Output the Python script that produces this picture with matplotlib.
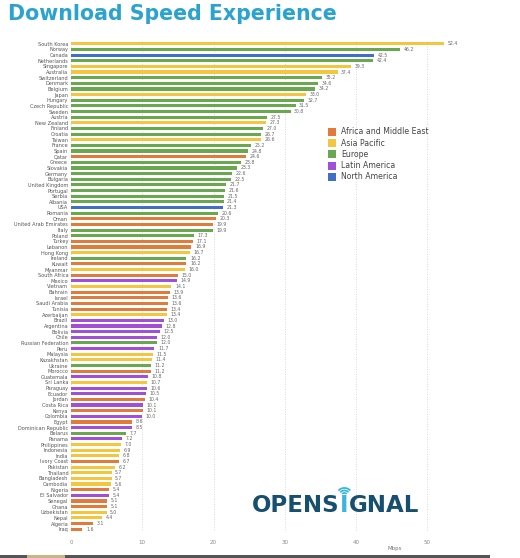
import matplotlib.pyplot as plt
from matplotlib.patches import Arc, Rectangle

# regions
regions = ['Africa and Middle East', 'Asia Pacific', 'Europe', 'Latin America', 'North America']
region_colors = ['#e07b3c', '#f4c53f', '#6aa84f', '#a24fd8', '#3f6fc6']

countries = [
    'South Korea', 'Norway', 'Canada', 'Netherlands', 'Singapore', 'Australia',
    'Switzerland', 'Denmark', 'Belgium', 'Japan', 'Hungary', 'Czech Republic',
    'Sweden', 'Austria', 'New Zealand', 'Finland', 'Croatia', 'Taiwan', 'France',
    'Spain', 'Qatar', 'Greece', 'Slovakia', 'Germany', 'Bulgaria', 'United Kingdom',
    'Portugal', 'Serbia', 'Albania', 'USA', 'Romania', 'Oman', 'United Arab Emirates',
    'Italy', 'Poland', 'Turkey', 'Lebanon', 'Hong Kong', 'Ireland', 'Kuwait',
    'Myanmar', 'South Africa', 'Mexico', 'Vietnam', 'Bahrain', 'Israel',
    'Saudi Arabia', 'Tunisia', 'Azerbaijan', 'Brazil', 'Argentina', 'Bolivia',
    'Chile', 'Russian Federation', 'Peru', 'Malaysia', 'Kazakhstan', 'Ukraine',
    'Morocco', 'Guatemala', 'Sri Lanka', 'Paraguay', 'Ecuador', 'Jordan',
    'Costa Rica', 'Kenya', 'Colombia', 'Egypt', 'Dominican Republic', 'Belarus',
    'Panama', 'Philippines', 'Indonesia', 'India', 'Ivory Coast', 'Pakistan',
    'Thailand', 'Bangladesh', 'Cambodia', 'Nigeria', 'El Salvador', 'Senegal',
    'Ghana', 'Uzbekistan', 'Nepal', 'Algeria', 'Iraq']

speeds = [
    52.4, 46.2, 42.5, 42.4, 39.3, 37.4,
    35.2, 34.6, 34.2, 33.0, 32.7, 31.5,
    30.8, 27.5, 27.3, 27.0, 26.7, 26.6, 25.2,
    24.8, 24.6, 23.8, 23.3, 22.6, 22.5, 21.7,
    21.6, 21.5, 21.4, 21.3, 20.6, 20.3, 19.9,
    19.9, 17.3, 17.1, 16.9, 16.7, 16.2, 16.2,
    16.0, 15.0, 14.9, 14.1, 13.9, 13.6,
    13.6, 13.4, 13.4, 13.0, 12.8, 12.5,
    12.0, 12.0, 11.7, 11.5, 11.4, 11.2,
    11.2, 10.8, 10.7, 10.6, 10.5, 10.4,
    10.1, 10.1, 10.0, 8.6, 8.5, 7.7,
    7.2, 7.0, 6.9, 6.8, 6.7, 6.2,
    5.7, 5.7, 5.6, 5.4, 5.4, 5.1,
    5.1, 5.0, 4.4, 3.1, 1.6]

# region index per country (0 AME, 1 AP, 2 EU, 3 LA, 4 NA)
region_idx = [
    1, 2, 4, 2, 1, 1,
    2, 2, 2, 1, 2, 2,
    2, 2, 1, 2, 2, 1, 2,
    2, 0, 2, 2, 2, 2, 2,
    2, 2, 2, 4, 2, 0, 0,
    2, 2, 0, 0, 1, 2, 0,
    1, 0, 3, 1, 0, 0,
    0, 0, 1, 3, 3, 3,
    3, 2, 3, 1, 1, 2,
    0, 3, 1, 3, 3, 0,
    3, 0, 3, 0, 3, 2,
    3, 1, 1, 1, 0, 1,
    1, 1, 1, 0, 3, 0,
    0, 1, 1, 0, 0]

fig = plt.figure(figsize=(5.2, 5.58), dpi=100)
ax = fig.add_axes([71/520, 1 - 532/558, 1 - 71/520, (532 - 41)/558])

ypos = list(range(len(countries)))
colors = [region_colors[i] for i in region_idx]
ax.barh(ypos, speeds, height=0.55, color=colors)
ax.set_ylim(len(countries) - 0.5, -0.5)
ax.set_xlim(0, 63)

for y, v in zip(ypos, speeds):
    ax.text(v + 0.5, y, '%.1f' % v, va='center', ha='left', fontsize=3.3, color='#666666')

ax.set_yticks(ypos)
ax.set_yticklabels(countries, fontsize=3.6, color='#555555')
ax.set_xticks([0, 10, 20, 30, 40, 50])
ax.tick_params(axis='x', labelsize=4, colors='#888888', length=0, pad=6)
ax.tick_params(axis='y', length=0, pad=2)
ax.grid(axis='x', linestyle=(0, (1, 2)), color='#cccccc', linewidth=0.6)
ax.set_axisbelow(True)
for s in ax.spines.values():
    s.set_visible(False)
ax.set_xlabel('Mbps', fontsize=4, color='#777777')
ax.xaxis.set_label_coords((395 - 71) / 449, -0.028)

# title
fig.text(8/520, 1 - 14/558, 'Download Speed Experience', fontsize=14.8, fontweight='bold',
         color='#2ba3cf', va='center', ha='left')

# legend
for i, (name, c) in enumerate(zip(regions, region_colors)):
    yy = 1 - (132 + i * 11.2) / 558
    fig.patches.append(Rectangle((328/520, yy - 4/558), 8/520, 8/558, transform=fig.transFigure,
                                 facecolor=c, edgecolor='none'))
    fig.text(341/520, yy, name, fontsize=5.6, color='#444444', va='center', ha='left')

# logo: OPENS + blue i + GNAL
renderer = fig.canvas.get_renderer()
logo_y = 1 - 505/558
x = 252/520
for part, col in [('OPENS', '#17506e'), ('I', '#3cb4e0'), ('GNAL', '#17506e')]:
    t = fig.text(x, logo_y, part, fontsize=16.5, fontweight='bold', color=col,
                 va='center', ha='left')
    bb = t.get_window_extent(renderer)
    if part == 'I':
        cx = (bb.x0 + bb.x1) / 2 / 520
        for r in [6, 11, 16]:
            fig.patches.append(Arc((cx, 1 - 496/558), r/520, r/558, theta1=40, theta2=140,
                                   transform=fig.transFigure, color='#3cb4e0', linewidth=1.3))
    x = bb.x1 / 520 + 0.5/520

# bottom bar
fig.patches.append(Rectangle((0, 0), 490/520, 3/558, transform=fig.transFigure,
                             facecolor='#555555', edgecolor='none'))
fig.patches.append(Rectangle((27/520, 0), 38/520, 3/558, transform=fig.transFigure,
                             facecolor='#c9b48a', edgecolor='none'))

fig.savefig('out.png', dpi=100)
